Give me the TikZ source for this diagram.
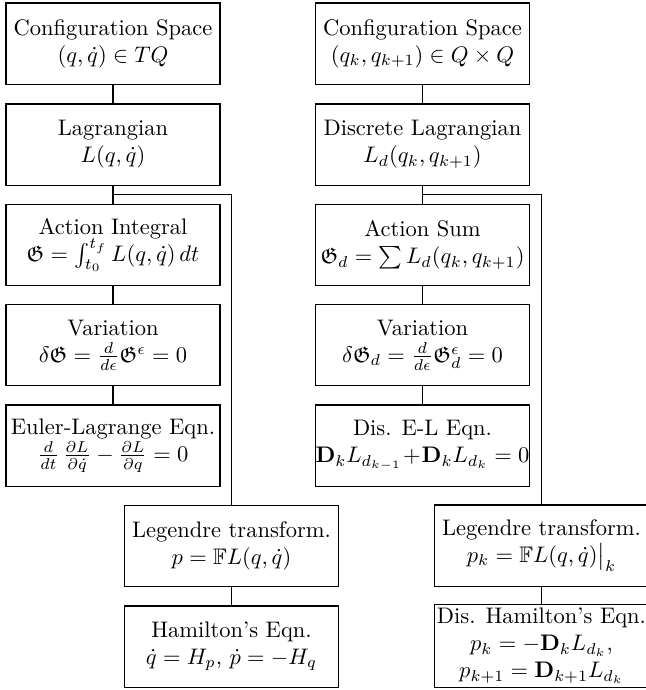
\documentclass[tikz,border=0pt]{standalone}
\usepackage{amssymb}
\usetikzlibrary{calc}
\begin{document}
\begin{tikzpicture}[x=0.4444pt,y=-0.4444pt,
  box/.style={draw, line width=0.45pt, text width=95.1pt, inner xsep=0pt, inner ysep=0pt, minimum height=36pt, align=flush center},
  link/.style={line width=0.45pt}]
\useasboundingbox (0,0) rectangle (645,690);
% left column
\node[box] (L1) at (113,43.5) {Configuration Space\\ $(q,\dot q)\in TQ$};
\node[box] (L2) at (113,144.5) {Lagrangian\\ $L(q,\dot q)$};
\node[box] (L3) at (113,245) {Action Integral\\ $\mathfrak{G}=\int_{t_0}^{t_f} L(q,\dot q)\,dt$};
\node[box] (L4) at (113,345) {Variation\\ $\delta\mathfrak{G}=\frac{d}{d\epsilon}\mathfrak{G}^{\epsilon}=0$};
\node[box] (L5) at (113,445.5) {Euler-Lagrange Eqn.\\ $\frac{d}{dt}\,\frac{\partial L}{\partial\dot q}-\frac{\partial L}{\partial q}=0$};
\node[box] (LegL) at (231.5,546) {Legendre transform.\\ $p=\mathbb{F}L(q,\dot q)$};
\node[box] (HamL) at (231.5,646.5) {Hamilton's Eqn.\\ $\dot q=H_p$, $\dot p=-H_q$};
% right column
\node[box] (R1) at (422.5,43.5) {Configuration Space\\ $(q_k,q_{k+1})\in Q\times Q$};
\node[box] (R2) at (422.5,144.5) {Discrete Lagrangian\\ $L_d(q_k,q_{k+1})$};
\node[box] (R3) at (422.5,245) {Action Sum\\ $\mathfrak{G}_d=\sum L_d(q_k,q_{k+1})$};
\node[box] (R4) at (422.5,345) {Variation\\ $\delta\mathfrak{G}_d=\frac{d}{d\epsilon}\mathfrak{G}^{\epsilon}_d=0$};
\node[box] (R5) at (422.5,445.5) {Dis. E-L Eqn.\\ $\mathbf{D}_kL_{d_{k-1}}+\mathbf{D}_kL_{d_k}=0$};
\node[box] (LegR) at (541.5,545.5) {Legendre transform.\\ $p_k=\mathbb{F}L(q,\dot q)\big|_k$};
\node[box, minimum height=37.3pt] (HamR) at (541.5,646) {Dis. Hamilton's Eqn.\\ $p_k=-\mathbf{D}_kL_{d_k}$,\\ $p_{k+1}=\mathbf{D}_{k+1}L_{d_k}$};
% connectors
\coordinate (bl) at ($(L2.south)!0.5!(L3.north)$);
\coordinate (br) at ($(R2.south)!0.5!(R3.north)$);
\draw[link] (L1) -- (L2);
\draw[link] (L2) -- (L3);
\draw[link] (L3) -- (L4);
\draw[link] (L4) -- (L5);
\draw[link] (bl) -| (LegL.north);
\draw[link] (LegL) -- (HamL);
\draw[link] (R1) -- (R2);
\draw[link] (R2) -- (R3);
\draw[link] (R3) -- (R4);
\draw[link] (R4) -- (R5);
\draw[link] (br) -| (LegR.north);
\draw[link] (LegR) -- (HamR);
\end{tikzpicture}
\end{document}
